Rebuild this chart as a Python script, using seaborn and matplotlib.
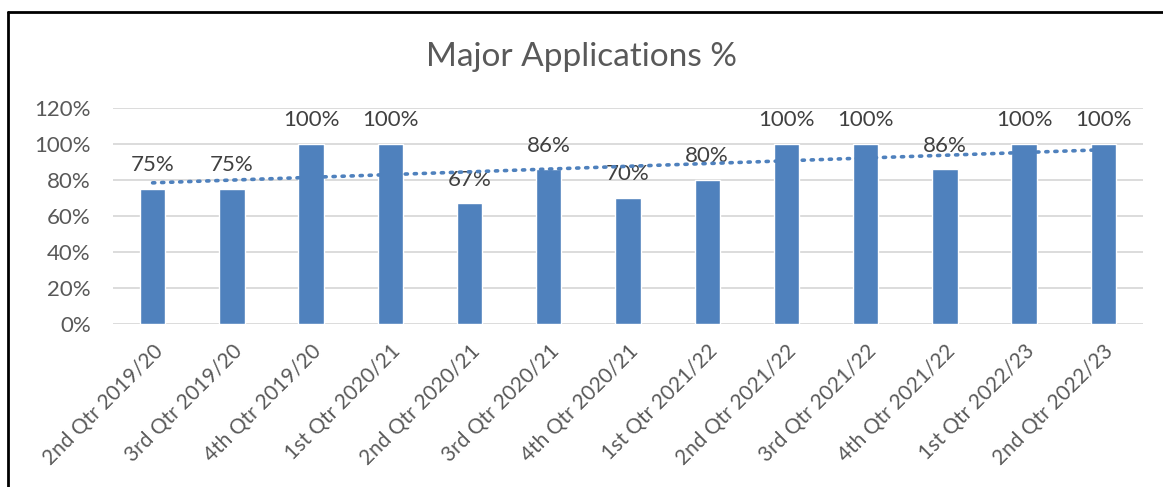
import matplotlib
matplotlib.use("Agg")
import matplotlib.pyplot as plt
from matplotlib.lines import Line2D
from matplotlib.ticker import PercentFormatter
import seaborn as sns
import numpy as np
import pandas as pd

# Datos del gráfico
quarters = ["2nd Qtr 2019/20", "3rd Qtr 2019/20", "4th Qtr 2019/20",
            "1st Qtr 2020/21", "2nd Qtr 2020/21", "3rd Qtr 2020/21",
            "4th Qtr 2020/21", "1st Qtr 2021/22", "2nd Qtr 2021/22",
            "3rd Qtr 2021/22", "4th Qtr 2021/22", "1st Qtr 2022/23",
            "2nd Qtr 2022/23"]
values = [75, 75, 100, 100, 67, 86, 70, 80, 100, 100, 86, 100, 100]

bar_color = "#4F81BD"
text_color = "#595959"

sns.set_theme(style="white")
plt.rcParams['font.family'] = ['Lato', 'DejaVu Sans']

df = pd.DataFrame({"quarter": quarters, "pct": np.array(values) / 100})

fig = plt.figure(figsize=(11.63, 4.87), dpi=100)
ax = fig.add_axes([113 / 1163, 1 - 324 / 487, (1143 - 113) / 1163, (324 - 108) / 487])

sns.barplot(data=df, x="quarter", y="pct", color=bar_color, width=0.32,
            saturation=1, ax=ax, zorder=3)

# Línea de tendencia lineal
xs = np.arange(len(values))
coef = np.polyfit(xs, df["pct"], 1)
ax.plot(xs, np.polyval(coef, xs), color=bar_color, lw=2.6, ls=(0, (0.6, 1.9)),
        dash_capstyle="round", zorder=4)

# Etiquetas de valor
for x, v in zip(xs, values):
    ax.annotate(f"{v}%", (x, v / 100), xytext=(0, 17), textcoords="offset points",
                ha="center", va="center", fontsize=16, color="#404040")

ax.set_ylim(0, 1.2)
ax.set_xlim(-0.5, len(values) - 0.5)
ax.set_yticks(np.arange(0, 1.21, 0.2))
ax.yaxis.set_major_formatter(PercentFormatter(1.0, decimals=0))
ax.yaxis.grid(True, color="#D9D9D9", lw=1.3, zorder=0)
ax.set_axisbelow(True)
for s in ax.spines.values():
    s.set_visible(False)
ax.tick_params(axis="y", length=0, labelsize=16, labelcolor=text_color, pad=16)
ax.tick_params(axis="x", length=0, labelsize=15, labelcolor=text_color, pad=12)
ax.set_xlabel("")
ax.set_ylabel("")
plt.setp(ax.get_xticklabels(), rotation=45, ha="right", rotation_mode="anchor")

fig.text(0.5, 1 - 57 / 487, "Major Applications %", ha="center", va="center",
         fontsize=24, color=text_color)

# Borde del cuadro
fig.add_artist(Line2D([7.5 / 1163, 7.5 / 1163], [0, 1 - 12 / 487], color="black", lw=2))
fig.add_artist(Line2D([7.5 / 1163, 1], [1 - 12 / 487, 1 - 12 / 487], color="black", lw=2))

fig.savefig("out.png", dpi=100)
